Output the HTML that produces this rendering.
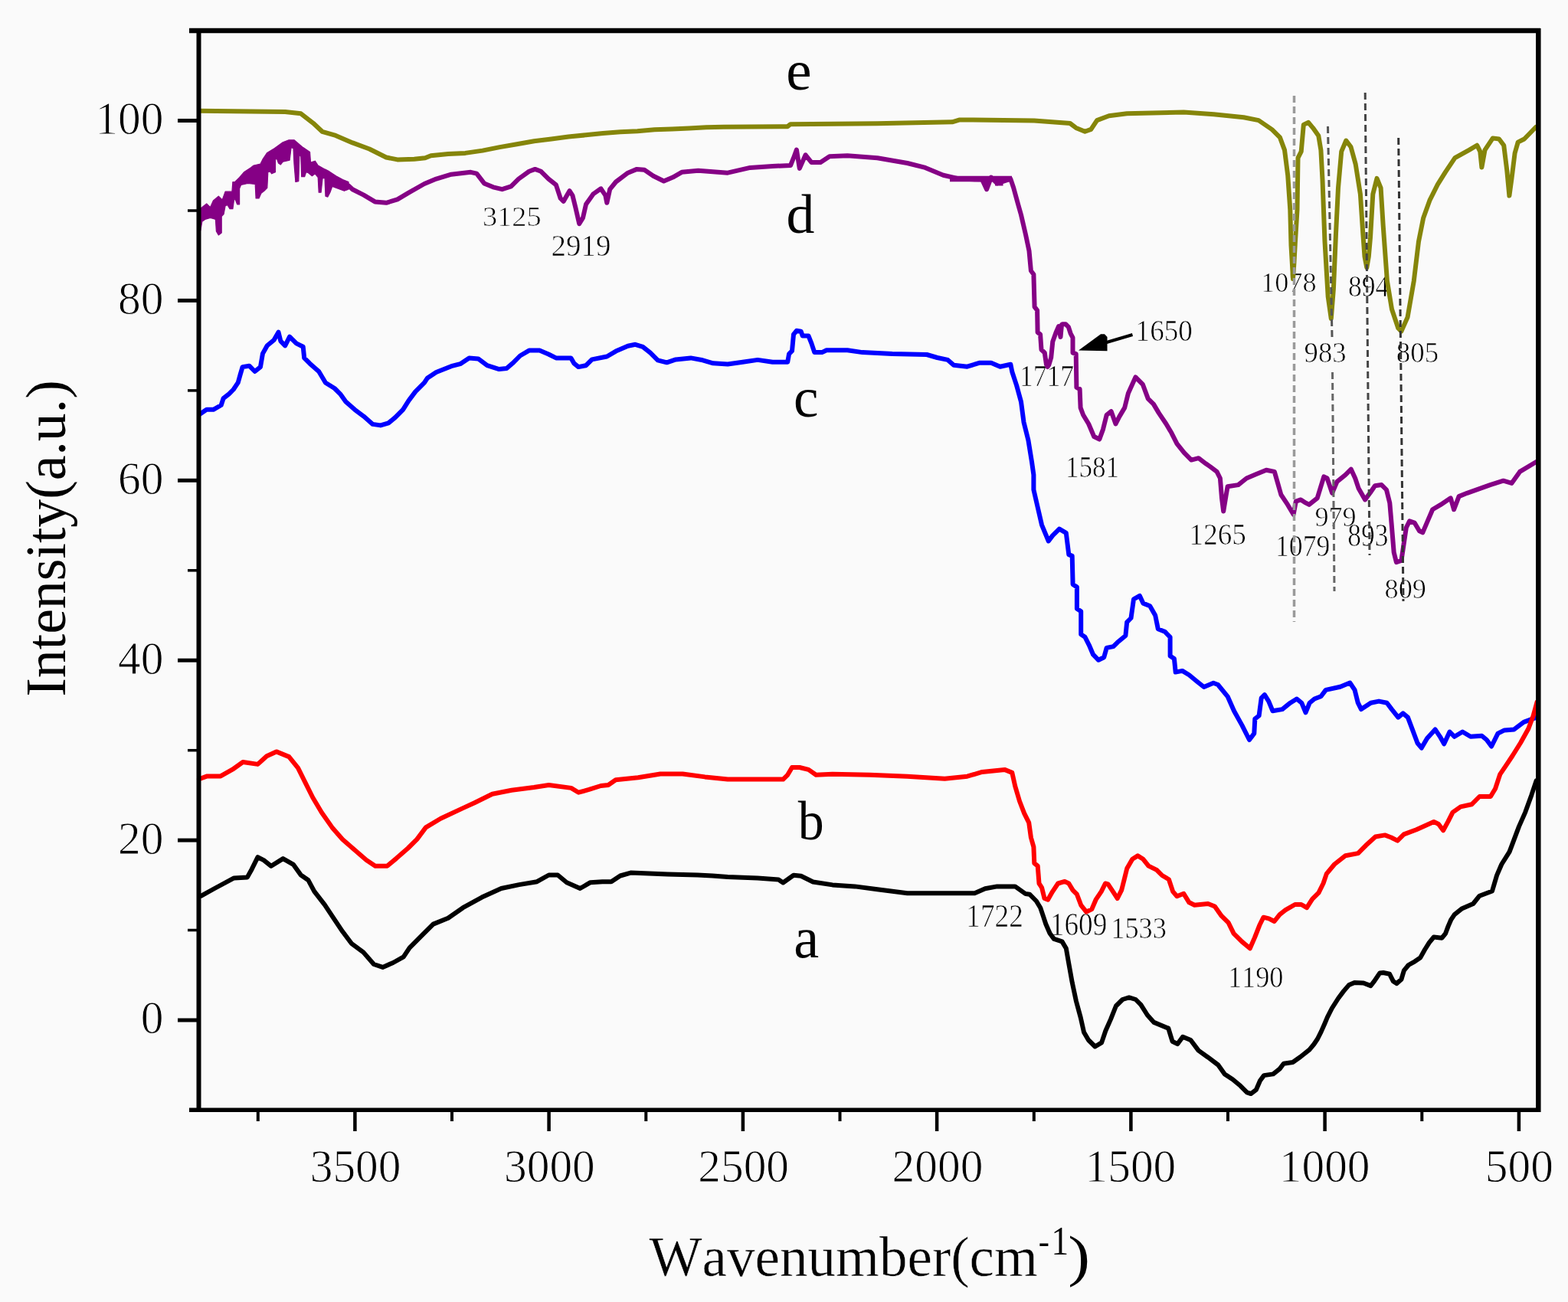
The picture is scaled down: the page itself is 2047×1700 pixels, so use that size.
<!DOCTYPE html>
<html><head><meta charset="utf-8"><title>FTIR spectra</title><style>html,body{margin:0;padding:0;background:#fafafa;overflow:hidden;}svg{display:block;}</style></head><body>
<svg width="2047" height="1700" viewBox="0 0 2047 1700" font-family="Liberation Serif, Times New Roman, serif" style="font-kerning:none">
<rect x="0" y="0" width="2047" height="1700" fill="#fafafa"/>
<text transform="translate(629.9 294.8) scale(1.051 1)" font-size="36.5" fill="#000" stroke="#fafafa" stroke-width="0.7">3125</text>
<text transform="translate(719.4 334.3) scale(0.979 1)" font-size="39.9" fill="#000" stroke="#fafafa" stroke-width="0.7">2919</text>
<text transform="translate(1646.1 380.7) scale(0.990 1)" font-size="36.6" fill="#000" stroke="#fafafa" stroke-width="0.7">1078</text>
<text transform="translate(1702.6 473.4) scale(0.961 1)" font-size="38.2" fill="#000" stroke="#fafafa" stroke-width="0.7">983</text>
<text transform="translate(1760.0 386.9) scale(0.897 1)" font-size="39.7" fill="#000" stroke="#fafafa" stroke-width="0.7">894</text>
<text transform="translate(1822.8 473.4) scale(0.965 1)" font-size="38.2" fill="#000" stroke="#fafafa" stroke-width="0.7">805</text>
<text transform="translate(1330.9 504.0) scale(0.870 1)" font-size="40.9" fill="#000" stroke="#fafafa" stroke-width="0.7">1717</text>
<text transform="translate(1482.6 444.9) scale(0.922 1)" font-size="40.2" fill="#000" stroke="#fafafa" stroke-width="0.7">1650</text>
<text transform="translate(1390.9 622.6) scale(0.871 1)" font-size="40.2" fill="#000" stroke="#fafafa" stroke-width="0.7">1581</text>
<text transform="translate(1552.6 710.5) scale(0.943 1)" font-size="39.4" fill="#000" stroke="#fafafa" stroke-width="0.7">1265</text>
<text transform="translate(1665.0 726.2) scale(0.894 1)" font-size="39.9" fill="#000" stroke="#fafafa" stroke-width="0.7">1079</text>
<text transform="translate(1716.4 686.5) scale(1.030 1)" font-size="35.1" fill="#000" stroke="#fafafa" stroke-width="0.7">979</text>
<text transform="translate(1759.2 713.3) scale(0.858 1)" font-size="41.3" fill="#000" stroke="#fafafa" stroke-width="0.7">893</text>
<text transform="translate(1807.5 781.0) scale(0.992 1)" font-size="36.6" fill="#000" stroke="#fafafa" stroke-width="0.7">809</text>
<text transform="translate(1261.3 1210.1) scale(0.906 1)" font-size="41.2" fill="#000" stroke="#fafafa" stroke-width="0.7">1722</text>
<text transform="translate(1370.8 1221.1) scale(0.891 1)" font-size="41.8" fill="#000" stroke="#fafafa" stroke-width="0.7">1609</text>
<text transform="translate(1450.3 1224.6) scale(0.893 1)" font-size="40.6" fill="#000" stroke="#fafafa" stroke-width="0.7">1533</text>
<text transform="translate(1603.0 1289.0) scale(0.927 1)" font-size="39.1" fill="#000" stroke="#fafafa" stroke-width="0.7">1190</text>
<path d="M260.1 144.7 L372.2 146.1 L392.8 148.3 L408.9 160.8 L420.6 171.8 L438.2 176.9 L460.2 186.4 L482.2 194.5 L504.2 205.5 L518.8 208.4 L540.8 207.7 L555.0 206.2 L562.5 203.3 L585.0 201.1 L607.4 199.9 L629.9 196.6 L652.4 192.1 L674.8 188.3 L697.3 184.2 L719.8 181.5 L742.2 178.6 L764.7 176.3 L787.2 174.1 L809.7 172.3 L832.1 171.2 L854.6 169.2 L877.1 168.5 L899.6 167.4 L922.0 166.2 L944.5 165.8 L1028.2 165.2 L1032.0 162.2 L1145.4 161.3 L1243.1 159.3 L1252.9 156.4 L1350.0 157.4 L1396.9 161.0 L1404.7 166.9 L1416.4 171.8 L1424.3 168.9 L1432.1 157.1 L1447.7 151.3 L1471.2 148.3 L1545.4 146.4 L1584.5 149.3 L1623.6 153.2 L1643.1 157.1 L1660.6 169.1 L1670.9 179.4 L1677.0 195.9 L1681.2 228.8 L1684.3 274.1 L1685.5 320.0 L1687.0 346.0 L1688.0 364.0 L1689.3 345.0 L1690.8 318.0 L1693.5 274.1 L1694.5 206.2 L1698.7 197.9 L1701.8 162.9 L1707.9 159.8 L1714.1 167.1 L1721.3 177.3 L1724.4 195.9 L1726.5 235.0 L1729.5 315.3 L1733.7 387.3 L1737.8 416.1 L1740.9 377.0 L1744.0 305.0 L1747.0 245.3 L1751.2 197.9 L1757.3 183.5 L1763.5 191.8 L1769.7 214.4 L1775.9 253.5 L1779.3 305.0 L1781.5 335.0 L1784.3 349.5 L1786.8 335.0 L1789.0 310.0 L1792.3 253.5 L1797.5 232.9 L1802.6 245.3 L1805.7 294.7 L1810.9 366.7 L1817.0 403.8 L1825.3 428.5 L1829.4 432.6 L1837.6 414.1 L1845.8 366.7 L1852.0 315.3 L1858.2 284.4 L1866.4 261.7 L1876.7 241.2 L1887.0 224.7 L1899.4 206.2 L1917.9 195.9 L1928.2 189.7 L1932.3 197.9 L1934.4 218.5 L1938.5 195.9 L1948.8 180.4 L1957.0 181.5 L1963.2 189.7 L1967.3 222.6 L1970.4 255.6 L1973.5 232.9 L1977.6 200.0 L1981.7 185.6 L1989.9 181.5 L2005.0 166.0" fill="none" stroke="#85850a" stroke-width="6.0" stroke-linejoin="round" stroke-linecap="round"/>
<path d="M455.0 242.4 L460.2 247.2 L474.8 254.6 L489.5 263.4 L504.2 264.8 L518.8 260.4 L533.5 251.6 L554.0 240.0 L569.5 233.6 L589.1 227.7 L614.5 224.8 L622.3 226.7 L632.1 239.4 L643.8 244.3 L655.5 247.2 L667.2 243.3 L677.0 233.6 L690.7 223.8 L698.5 220.9 L706.3 223.8 L716.1 233.6 L725.9 241.4 L731.7 259.0 L735.6 262.9 L743.5 249.2 L747.4 255.1 L751.3 270.7 L756.2 292.2 L761.0 284.4 L765.0 266.8 L774.7 253.1 L784.5 246.3 L790.4 255.1 L792.3 264.8 L796.2 247.2 L804.0 237.5 L819.7 225.7 L831.4 220.9 L841.2 221.8 L852.9 229.7 L866.6 236.5 L878.3 231.6 L890.0 224.8 L911.5 222.8 L950.0 225.7 L979.3 218.9 L1008.6 217.0 L1032.0 216.0 L1036.0 206.2 L1039.9 195.5 L1043.8 219.9 L1051.6 202.3 L1059.4 212.1 L1071.2 212.1 L1082.9 204.3 L1106.3 203.3 L1145.4 206.2 L1184.5 213.0 L1207.9 218.9 L1231.4 228.7 L1252.9 233.6 L1282.2 234.5 L1288.1 247.2 L1293.9 231.6 L1301.7 239.4 L1319.3 233.6 L1323.2 245.3 L1329.1 266.8 L1333.0 280.5 L1338.9 305.9 L1343.5 327.6 L1345.9 353.5 L1349.4 358.2 L1350.6 400.6 L1354.1 405.3 L1354.6 433.9 L1358.1 436.7 L1359.5 456.5 L1363.8 460.7 L1366.0 476.0 L1367.5 479.0 L1369.4 476.2 L1372.2 467.0 L1374.3 445.9 L1378.6 433.9 L1382.1 426.1 L1384.5 440.0 L1386.0 424.0 L1387.0 423.3 L1391.3 423.3 L1394.8 426.8 L1397.6 435.3 L1400.5 440.9 L1400.5 460.7 L1404.7 462.1 L1405.4 505.9 L1409.6 508.0 L1410.6 532.4 L1414.1 541.8 L1421.2 553.5 L1428.2 570.0 L1435.3 573.5 L1440.0 560.6 L1444.7 541.8 L1450.6 537.1 L1456.5 553.5 L1461.2 544.1 L1468.2 532.4 L1472.9 513.5 L1482.4 492.4 L1491.8 501.8 L1498.8 520.6 L1505.9 527.6 L1512.9 539.4 L1522.4 553.5 L1529.4 565.3 L1536.5 579.4 L1545.9 591.2 L1555.3 600.6 L1564.7 598.2 L1574.1 605.3 L1580.0 609.4 L1588.6 615.9 L1592.9 624.5 L1595.0 650.3 L1597.2 667.5 L1600.4 648.1 L1602.6 635.2 L1616.5 633.1 L1627.3 624.5 L1640.2 619.1 L1653.1 613.7 L1663.8 615.9 L1668.1 630.9 L1672.4 646.0 L1681.0 658.9 L1688.6 671.8 L1691.8 654.6 L1698.2 652.4 L1704.7 656.7 L1709.0 658.9 L1719.7 650.3 L1728.3 622.3 L1732.6 624.5 L1739.1 643.8 L1745.5 628.8 L1756.3 620.2 L1763.8 612.7 L1769.2 624.5 L1773.5 637.4 L1782.1 652.4 L1788.5 643.8 L1795.0 634.2 L1803.6 633.1 L1810.0 639.5 L1814.3 656.7 L1816.5 682.5 L1819.7 721.2 L1822.9 734.1 L1829.4 732.0 L1832.6 710.5 L1835.8 689.0 L1840.1 680.4 L1846.6 682.5 L1853.0 693.3 L1857.3 695.4 L1863.7 680.4 L1870.2 665.3 L1880.9 658.9 L1893.8 650.3 L1898.1 665.3 L1904.6 648.1 L1915.3 643.8 L1945.4 633.1 L1962.6 627.7 L1973.4 630.9 L1984.1 615.9 L2005.6 603.0" fill="none" stroke="#850085" stroke-width="6.0" stroke-linejoin="round" stroke-linecap="round"/>
<polygon points="259.9,273.7 269.7,265.9 274.5,270.7 278.4,262.0 285.3,256.1 290.2,261.0 294.1,250.2 302.9,250.2 303.9,237.5 306.8,237.5 312.6,231.7 318.5,224.8 327.3,219.0 331.2,216.0 340.0,214.1 342.9,208.2 348.8,199.4 358.6,193.6 369.3,185.7 377.1,182.8 384.0,182.8 389.8,187.7 395.7,192.6 404.5,198.4 405.5,212.1 411.3,210.2 415.2,216.0 424.0,220.9 429.9,223.9 438.7,229.7 447.5,234.6 455.0,237.5 455.0,247.3 449.4,249.3 433.8,243.4 430.9,251.2 427.9,257.1 425.0,256.1 424.0,232.6 421.1,232.6 419.1,251.2 416.2,251.2 415.2,231.7 411.3,226.8 407.4,229.7 402.5,225.8 399.6,224.8 397.6,230.7 393.7,230.7 392.8,204.3 390.8,202.4 389.8,236.6 385.9,237.5 384.0,214.1 383.0,193.6 380.1,192.6 378.1,209.2 369.3,211.2 366.4,215.0 363.5,213.1 361.5,207.2 359.5,208.2 359.5,224.8 354.7,226.8 352.7,223.9 349.8,224.8 348.8,245.3 344.9,249.3 341.0,252.2 338.0,259.0 334.1,259.0 333.2,240.5 323.4,239.5 314.6,241.4 312.6,246.3 312.6,266.8 309.7,266.8 307.8,262.0 305.8,259.0 303.9,272.7 300.0,272.7 297.0,267.8 294.1,268.8 292.1,279.5 289.2,282.5 289.2,304.0 285.3,306.9 282.4,302.0 281.4,286.4 278.4,285.4 274.5,284.4 267.7,286.4 263.8,289.3 261.8,301.0 259.9,300.0" fill="#850085" stroke="#850085" stroke-width="1.2" stroke-linejoin="round"/>
<path d="M1240 233.5 L1321 233.5" stroke="#850085" stroke-width="7.5" fill="none"/>
<path d="M1287.6 236 L1287.6 248.5" stroke="#850085" stroke-width="3" fill="none"/>
<path d="M1299 238 L1309.5 238" stroke="#850085" stroke-width="9" fill="none"/>
<path d="M260.9 540.7 L269.7 534.8 L278.5 534.8 L288.7 529.0 L291.6 520.2 L299.0 514.3 L304.8 508.5 L310.7 499.7 L313.6 489.4 L316.6 479.1 L325.4 477.7 L332.7 485.0 L340.0 479.1 L343.0 461.6 L348.8 451.3 L357.6 444.0 L363.5 433.7 L366.4 445.4 L372.2 451.3 L378.1 439.6 L386.9 448.4 L395.7 452.8 L397.2 467.4 L404.5 474.7 L416.2 485.0 L425.0 499.7 L436.7 507.0 L444.1 514.3 L451.4 524.6 L463.1 534.8 L474.8 543.6 L486.6 553.9 L496.8 555.4 L507.1 552.4 L515.9 545.1 L526.1 534.8 L533.5 523.1 L542.3 511.4 L554.0 499.7 L557.8 493.8 L569.5 486.0 L589.1 478.2 L600.8 475.2 L612.5 467.4 L624.3 468.4 L636.0 477.2 L651.6 482.1 L661.4 481.1 L669.2 474.3 L679.0 464.5 L690.7 457.6 L704.4 457.6 L716.1 462.5 L725.9 467.4 L745.4 467.4 L749.3 474.3 L755.2 479.1 L765.0 477.2 L772.8 469.4 L792.3 465.5 L804.0 458.6 L819.7 451.8 L829.4 449.8 L839.2 452.8 L849.0 460.6 L858.7 470.3 L870.5 473.3 L882.2 469.4 L901.7 467.4 L917.4 470.3 L931.0 474.3 L950.0 475.5 L969.5 472.8 L989.1 469.9 L1008.6 472.8 L1028.2 472.8 L1030.1 462.1 L1034.0 458.2 L1036.0 436.7 L1039.9 431.8 L1045.7 432.8 L1047.7 438.6 L1055.5 438.6 L1059.4 448.4 L1063.3 460.1 L1073.1 460.1 L1079.0 457.2 L1106.3 457.2 L1125.9 460.1 L1164.9 462.1 L1209.9 463.0 L1223.6 467.0 L1237.3 469.9 L1245.1 476.7 L1262.7 478.7 L1278.3 473.8 L1293.9 473.8 L1305.6 478.7 L1319.3 475.7 L1321.3 485.5 L1327.1 503.1 L1333.0 524.6 L1336.5 551.2 L1342.4 574.7 L1347.0 603.0 L1349.4 620.0 L1349.4 639.4 L1354.7 662.4 L1360.0 685.3 L1368.8 706.5 L1374.1 699.4 L1382.9 690.6 L1391.8 695.9 L1395.3 724.1 L1399.7 725.9 L1400.6 762.9 L1405.9 766.5 L1405.9 794.7 L1411.2 798.2 L1411.2 828.2 L1416.5 831.8 L1421.8 842.3 L1427.1 854.7 L1434.1 861.8 L1441.2 858.2 L1444.7 845.9 L1453.5 844.1 L1458.8 838.8 L1469.4 830.0 L1471.2 812.3 L1476.5 807.0 L1480.0 782.3 L1487.9 777.9 L1492.3 787.6 L1501.2 791.2 L1508.2 803.5 L1511.8 821.2 L1520.6 824.7 L1527.6 831.8 L1527.6 856.5 L1532.9 860.0 L1534.7 877.6 L1543.5 875.9 L1552.3 881.2 L1562.9 890.0 L1571.7 897.0 L1584.1 891.8 L1590.0 894.0 L1602.6 909.3 L1611.0 928.2 L1621.5 947.1 L1631.0 966.0 L1637.3 957.6 L1638.3 938.7 L1643.6 934.5 L1646.7 911.4 L1650.9 907.2 L1656.2 915.6 L1661.4 928.2 L1674.0 926.1 L1684.5 917.7 L1692.9 912.5 L1699.2 917.7 L1704.5 930.3 L1709.7 917.7 L1716.0 912.5 L1724.5 909.3 L1730.8 900.9 L1749.7 896.7 L1762.3 891.5 L1768.6 900.9 L1772.8 917.7 L1777.0 926.1 L1789.6 917.7 L1800.1 915.6 L1810.6 917.7 L1816.9 926.1 L1825.3 936.6 L1831.6 931.4 L1837.9 936.6 L1844.2 953.4 L1850.5 970.3 L1855.8 976.6 L1863.1 964.0 L1873.6 952.4 L1879.9 961.8 L1885.2 971.3 L1892.5 955.5 L1898.8 961.8 L1909.3 955.5 L1919.8 961.8 L1934.5 960.8 L1940.8 966.0 L1947.1 974.5 L1955.5 957.6 L1964.0 953.4 L1976.6 952.4 L1989.2 942.9 L2006.0 936.6" fill="none" stroke="#0000ff" stroke-width="6.0" stroke-linejoin="round" stroke-linecap="round"/>
<path d="M259.9 1017.3 L270.5 1013.4 L288.0 1013.4 L303.5 1004.7 L317.1 995.0 L336.5 997.9 L348.2 987.2 L360.8 981.4 L377.3 988.1 L389.0 1002.7 L398.7 1022.1 L408.4 1041.5 L420.0 1061.0 L433.6 1080.4 L447.2 1095.9 L462.7 1109.5 L478.3 1123.1 L489.9 1130.8 L505.4 1130.8 L517.1 1121.1 L532.6 1107.5 L544.3 1095.9 L555.9 1080.4 L575.3 1068.7 L604.4 1055.1 L619.4 1048.3 L642.7 1036.7 L667.9 1031.8 L697.1 1028.0 L716.5 1025.0 L745.6 1028.9 L755.3 1034.7 L768.9 1030.9 L784.4 1026.0 L794.1 1025.0 L803.8 1018.2 L833.0 1015.3 L862.1 1010.5 L891.2 1010.5 L920.3 1014.4 L950.0 1017.5 L989.1 1017.6 L1022.3 1017.6 L1028.2 1011.8 L1034.0 1002.0 L1043.8 1002.0 L1055.5 1004.9 L1065.3 1011.8 L1086.8 1010.8 L1135.6 1011.8 L1184.5 1013.7 L1233.3 1016.7 L1262.7 1013.7 L1282.2 1007.9 L1311.5 1004.9 L1321.3 1008.9 L1325.2 1026.4 L1331.0 1046.0 L1337.1 1061.8 L1343.2 1074.1 L1345.9 1093.5 L1349.4 1105.9 L1350.3 1127.1 L1354.7 1130.6 L1356.5 1153.5 L1360.0 1158.8 L1363.5 1173.0 L1368.0 1174.7 L1374.1 1164.1 L1381.2 1153.5 L1390.0 1150.9 L1395.3 1153.5 L1400.6 1162.4 L1405.9 1167.7 L1411.2 1181.8 L1418.2 1190.6 L1425.3 1187.1 L1430.6 1174.7 L1437.7 1164.1 L1443.0 1153.5 L1446.5 1154.4 L1451.8 1162.4 L1458.8 1173.0 L1464.1 1162.4 L1467.7 1148.3 L1471.2 1134.1 L1478.3 1121.8 L1485.3 1117.4 L1492.4 1121.8 L1499.4 1130.6 L1510.0 1135.9 L1517.1 1143.0 L1525.9 1148.3 L1531.2 1164.1 L1536.5 1170.3 L1545.3 1166.8 L1552.4 1178.3 L1559.4 1181.8 L1577.1 1180.0 L1585.9 1183.5 L1594.7 1195.9 L1603.6 1204.7 L1610.6 1218.8 L1621.2 1229.4 L1631.8 1238.3 L1638.0 1224.1 L1644.2 1208.3 L1649.4 1197.7 L1656.5 1199.4 L1663.6 1203.0 L1670.6 1194.1 L1678.2 1188.2 L1690.6 1181.0 L1698.8 1181.0 L1706.0 1185.2 L1713.2 1173.8 L1721.5 1165.6 L1727.6 1153.2 L1731.8 1140.9 L1742.1 1128.5 L1756.5 1117.2 L1773.0 1114.1 L1783.2 1103.8 L1795.6 1092.5 L1808.0 1090.4 L1816.2 1093.5 L1824.4 1097.7 L1832.7 1089.4 L1849.1 1083.2 L1871.8 1072.9 L1878.0 1076.0 L1884.1 1084.3 L1890.3 1072.9 L1896.5 1060.6 L1906.8 1053.4 L1921.2 1050.3 L1931.5 1040.0 L1945.9 1040.0 L1952.1 1029.7 L1958.2 1011.2 L1966.5 998.8 L1974.7 986.5 L1985.0 970.0 L1995.3 951.5 L2001.5 935.0 L2006.6 916.5" fill="none" stroke="#ff0000" stroke-width="6.0" stroke-linejoin="round" stroke-linecap="round"/>
<path d="M262.8 1169.7 L280.2 1160.0 L305.5 1146.4 L322.9 1145.4 L328.8 1134.7 L336.5 1119.2 L344.3 1123.1 L354.0 1130.8 L369.5 1121.1 L383.1 1128.9 L392.8 1142.5 L402.5 1149.3 L410.3 1163.8 L423.9 1181.3 L435.5 1198.8 L447.2 1216.3 L458.8 1231.8 L474.4 1243.4 L488.0 1259.0 L499.6 1262.9 L513.2 1257.0 L526.8 1249.3 L534.6 1237.6 L552.0 1220.1 L565.6 1206.6 L585.0 1198.8 L604.4 1185.2 L629.1 1171.6 L654.4 1160.0 L677.7 1155.1 L701.0 1151.2 L716.5 1142.5 L728.1 1142.5 L739.8 1152.2 L757.3 1160.0 L770.8 1152.2 L786.4 1151.2 L798.0 1151.2 L809.7 1143.5 L823.3 1139.6 L871.8 1141.5 L910.6 1142.5 L930.0 1143.5 L950.0 1145.0 L989.1 1146.6 L1016.4 1148.6 L1022.3 1152.5 L1036.0 1142.7 L1045.7 1143.7 L1061.4 1151.5 L1086.8 1155.4 L1116.1 1157.4 L1145.4 1161.3 L1184.5 1166.2 L1233.3 1166.2 L1272.4 1166.2 L1286.1 1160.3 L1301.7 1157.4 L1325.2 1157.4 L1338.9 1167.1 L1344.1 1167.7 L1352.9 1176.5 L1358.2 1185.3 L1361.8 1195.9 L1365.3 1206.5 L1370.6 1218.8 L1375.9 1225.9 L1386.5 1229.4 L1391.8 1238.3 L1395.4 1258.8 L1399.7 1282.7 L1404.8 1306.7 L1410.8 1328.9 L1415.0 1347.7 L1421.0 1358.0 L1429.6 1366.5 L1438.1 1361.4 L1443.3 1346.0 L1450.1 1330.6 L1456.9 1313.5 L1465.5 1305.0 L1474.0 1302.4 L1482.6 1305.0 L1489.4 1311.8 L1498.0 1325.5 L1506.5 1334.9 L1525.3 1342.6 L1530.5 1359.7 L1537.3 1363.1 L1544.1 1353.7 L1554.4 1358.0 L1564.6 1371.6 L1576.6 1380.2 L1590.3 1390.5 L1598.8 1402.4 L1609.1 1409.3 L1619.4 1417.8 L1627.9 1426.4 L1633.0 1428.1 L1639.9 1422.9 L1645.0 1411.0 L1650.1 1404.1 L1662.1 1402.4 L1670.6 1395.6 L1675.8 1388.7 L1687.7 1387.0 L1697.6 1380.0 L1709.4 1370.6 L1715.3 1363.5 L1720.0 1356.5 L1724.7 1347.1 L1729.4 1336.5 L1732.9 1328.2 L1738.8 1316.5 L1747.1 1303.5 L1754.1 1294.1 L1761.2 1285.9 L1768.2 1282.9 L1780.0 1283.5 L1789.4 1287.1 L1794.1 1281.2 L1801.2 1270.6 L1805.9 1270.0 L1814.1 1271.8 L1818.8 1281.2 L1823.5 1284.1 L1829.4 1278.8 L1832.9 1267.1 L1838.8 1260.0 L1847.1 1255.3 L1854.1 1250.6 L1860.0 1240.0 L1865.9 1230.6 L1871.8 1223.5 L1882.4 1224.7 L1887.1 1218.8 L1890.6 1209.4 L1894.1 1201.2 L1898.8 1194.1 L1908.8 1186.2 L1923.2 1180.0 L1931.5 1169.7 L1948.0 1163.5 L1954.1 1142.9 L1960.3 1128.5 L1970.6 1112.1 L1976.8 1095.6 L1983.0 1079.1 L1991.2 1060.6 L1999.4 1037.9 L2005.6 1019.4" fill="none" stroke="#000000" stroke-width="6.0" stroke-linejoin="round" stroke-linecap="round"/>
<line x1="1689.5" y1="125" x2="1689.5" y2="812" stroke="#9a9a9a" stroke-width="3.5" stroke-dasharray="9 5"/>
<line x1="1733.5" y1="165" x2="1739" y2="440" stroke="#555" stroke-width="3" stroke-dasharray="9 5"/>
<line x1="1739.5" y1="486" x2="1742" y2="772" stroke="#666" stroke-width="3" stroke-dasharray="9 5"/>
<line x1="1782.2" y1="121" x2="1788" y2="725" stroke="#444" stroke-width="3" stroke-dasharray="9 5"/>
<line x1="1825.7" y1="180" x2="1832" y2="785" stroke="#333" stroke-width="3" stroke-dasharray="9 5"/>
<line x1="1443" y1="447.5" x2="1478.5" y2="437" stroke="#000" stroke-width="4"/>
<polygon points="1408,457.6 1437,436.3 1442,436.3 1445.5,440 1445.5,458.2" fill="#000"/>
<line x1="247" y1="40" x2="2011" y2="40" stroke="#000" stroke-width="6.5"/>
<line x1="247" y1="1449.2" x2="2011" y2="1449.2" stroke="#000" stroke-width="5.5"/>
<line x1="259.5" y1="37" x2="259.5" y2="1452" stroke="#000" stroke-width="6"/>
<line x1="2008.3" y1="37" x2="2008.3" y2="1452" stroke="#000" stroke-width="6.5"/>
<line x1="232" y1="1332.0" x2="259" y2="1332.0" stroke="#000" stroke-width="5"/>
<line x1="232" y1="1097.1" x2="259" y2="1097.1" stroke="#000" stroke-width="5"/>
<line x1="232" y1="862.2" x2="259" y2="862.2" stroke="#000" stroke-width="5"/>
<line x1="232" y1="627.3" x2="259" y2="627.3" stroke="#000" stroke-width="5"/>
<line x1="232" y1="392.4" x2="259" y2="392.4" stroke="#000" stroke-width="5"/>
<line x1="232" y1="157.5" x2="259" y2="157.5" stroke="#000" stroke-width="5"/>
<line x1="245" y1="1214.5" x2="259" y2="1214.5" stroke="#000" stroke-width="3.5"/>
<line x1="245" y1="979.7" x2="259" y2="979.7" stroke="#000" stroke-width="3.5"/>
<line x1="245" y1="744.8" x2="259" y2="744.8" stroke="#000" stroke-width="3.5"/>
<line x1="245" y1="509.9" x2="259" y2="509.9" stroke="#000" stroke-width="3.5"/>
<line x1="245" y1="275.0" x2="259" y2="275.0" stroke="#000" stroke-width="3.5"/>
<line x1="1982.9" y1="1449" x2="1982.9" y2="1477" stroke="#000" stroke-width="4.5"/>
<line x1="1729.6" y1="1449" x2="1729.6" y2="1477" stroke="#000" stroke-width="4.5"/>
<line x1="1476.4" y1="1449" x2="1476.4" y2="1477" stroke="#000" stroke-width="4.5"/>
<line x1="1223.1" y1="1449" x2="1223.1" y2="1477" stroke="#000" stroke-width="4.5"/>
<line x1="969.9" y1="1449" x2="969.9" y2="1477" stroke="#000" stroke-width="4.5"/>
<line x1="716.6" y1="1449" x2="716.6" y2="1477" stroke="#000" stroke-width="4.5"/>
<line x1="463.4" y1="1449" x2="463.4" y2="1477" stroke="#000" stroke-width="4.5"/>
<line x1="1856.3" y1="1449" x2="1856.3" y2="1464" stroke="#000" stroke-width="4"/>
<line x1="1603.0" y1="1449" x2="1603.0" y2="1464" stroke="#000" stroke-width="4"/>
<line x1="1349.8" y1="1449" x2="1349.8" y2="1464" stroke="#000" stroke-width="4"/>
<line x1="1096.5" y1="1449" x2="1096.5" y2="1464" stroke="#000" stroke-width="4"/>
<line x1="843.3" y1="1449" x2="843.3" y2="1464" stroke="#000" stroke-width="4"/>
<line x1="590.0" y1="1449" x2="590.0" y2="1464" stroke="#000" stroke-width="4"/>
<line x1="336.8" y1="1449" x2="336.8" y2="1464" stroke="#000" stroke-width="4"/>
<text transform="translate(183.8 1349.4) scale(0.955 1)" font-size="62.2" fill="#000" stroke="#fafafa" stroke-width="1.0">0</text>
<text transform="translate(154.1 1114.5) scale(0.955 1)" font-size="62.2" fill="#000" stroke="#fafafa" stroke-width="1.0">20</text>
<text transform="translate(154.1 879.6) scale(0.955 1)" font-size="62.2" fill="#000" stroke="#fafafa" stroke-width="1.0">40</text>
<text transform="translate(154.1 644.7) scale(0.955 1)" font-size="62.2" fill="#000" stroke="#fafafa" stroke-width="1.0">60</text>
<text transform="translate(154.1 409.8) scale(0.955 1)" font-size="62.2" fill="#000" stroke="#fafafa" stroke-width="1.0">80</text>
<text transform="translate(124.4 174.9) scale(0.955 1)" font-size="62.2" fill="#000" stroke="#fafafa" stroke-width="1.0">100</text>
<text transform="translate(1938.8 1542.6) scale(0.955 1)" font-size="62.2" fill="#000" stroke="#fafafa" stroke-width="1.0">500</text>
<text transform="translate(1669.8 1542.6) scale(0.955 1)" font-size="62.2" fill="#000" stroke="#fafafa" stroke-width="1.0">1000</text>
<text transform="translate(1416.5 1542.6) scale(0.955 1)" font-size="62.2" fill="#000" stroke="#fafafa" stroke-width="1.0">1500</text>
<text transform="translate(1164.6 1542.6) scale(0.955 1)" font-size="62.2" fill="#000" stroke="#fafafa" stroke-width="1.0">2000</text>
<text transform="translate(911.3 1542.6) scale(0.955 1)" font-size="62.2" fill="#000" stroke="#fafafa" stroke-width="1.0">2500</text>
<text transform="translate(658.0 1542.6) scale(0.955 1)" font-size="62.2" fill="#000" stroke="#fafafa" stroke-width="1.0">3000</text>
<text transform="translate(404.7 1542.6) scale(0.955 1)" font-size="62.2" fill="#000" stroke="#fafafa" stroke-width="1.0">3500</text>
<text transform="translate(1026.3 116.6) scale(1.006 1)" font-size="74.6" fill="#000">e</text>
<text transform="translate(1026.4 303.9) scale(1.011 1)" font-size="72.9" fill="#000">d</text>
<text transform="translate(1036.1 544.4) scale(1.001 1)" font-size="73.0" fill="#000">c</text>
<text transform="translate(1041.8 1096.1) scale(0.939 1)" font-size="72.2" fill="#000">b</text>
<text transform="translate(1036.3 1249.5) scale(0.981 1)" font-size="75.6" fill="#000">a</text>
<text transform="translate(847.5 1666.4) scale(0.975 1)" font-size="75" stroke="#fafafa" stroke-width="0.5">Wavenumber(cm</text>
<text transform="translate(1355.7 1636.3) scale(0.912 1)" font-size="46.8" fill="#000">-</text>
<text transform="translate(1372.4 1637.8) scale(0.854 1)" font-size="52.9" fill="#000">1</text>
<text transform="translate(1394.2 1665.0) scale(1.175 1)" font-size="73.6" fill="#000">)</text>
<text transform="translate(84.7 909.7) rotate(-90) scale(0.996 1)" font-size="74">Intensity(a.u.)</text>
</svg>
</body></html>
